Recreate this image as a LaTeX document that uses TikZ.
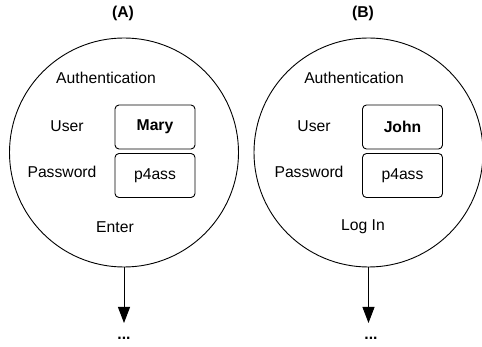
\documentclass[tikz,border=0pt]{standalone}
\usepackage{fontspec}
\setmainfont{Liberation Sans}
\usetikzlibrary{arrows.meta}
\begin{document}
\begin{tikzpicture}[x=1pt,y=-1pt,
  lbl/.style={font=\fontsize{15.7}{18}\selectfont, inner sep=0pt},
  ttl/.style={font=\fontsize{15.7}{18}\selectfont\bfseries, inner sep=0pt},
  ring/.style={draw, circle, line width=0.9pt, minimum size=229pt, inner sep=0pt},
  field/.style={draw, rounded corners=4pt, line width=0.9pt, minimum width=80pt, minimum height=44pt, inner sep=0pt, font=\fontsize{15.7}{18}\selectfont},
  arr/.style={line width=0.9pt, -{Triangle[width=12pt,length=16pt]}}]
\useasboundingbox (0,0) rectangle (482,347);
% (A)
\node[ttl] (tA) at (123,13) {(A)};
\node[ring] (cA) at (124,152.5) {};
\node[lbl] (authA) at (106,78) {Authentication};
\node[lbl] (userA) at (67,126) {User};
\node[lbl] (pwA) at (62,172) {Password};
\node[field, font=\fontsize{15.7}{18}\selectfont\bfseries] (boxA1) at (155,127) {Mary};
\node[field] (boxA2) at (155,175.5) {p4ass};
\node[lbl] (enterA) at (115,227) {Enter};
\coordinate (endA) at (124,323);
\draw[arr] (cA.south) -- (endA);
\node[ttl] (dotsA) at (124,338) {...};
% (B)
\node[ttl] (tB) at (363,13) {(B)};
\node[ring] (cB) at (368.5,152.5) {};
\node[lbl] (authB) at (354,78) {Authentication};
\node[lbl] (userB) at (314,126) {User};
\node[lbl] (pwB) at (309,172) {Password};
\node[field, font=\fontsize{15.7}{18}\selectfont\bfseries] (boxB1) at (402.5,127) {John};
\node[field] (boxB2) at (402.5,175.5) {p4ass};
\node[lbl] (enterB) at (363,227) {Log In};
\coordinate (endB) at (368.5,323);
\draw[arr] (cB.south) -- (endB);
\node[ttl] (dotsB) at (371,338) {...};
\end{tikzpicture}
\end{document}
